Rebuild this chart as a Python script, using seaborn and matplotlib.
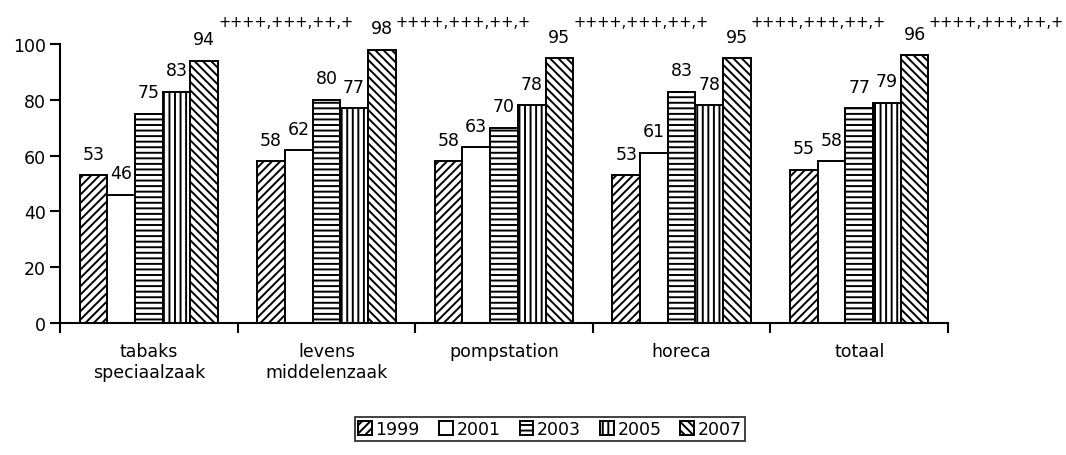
import pandas as pd
import matplotlib
matplotlib.use("Agg")
import matplotlib.pyplot as plt
import seaborn as sns

categories = ["tabaks\nspeciaalzaak", "levens\nmiddelenzaak", "pompstation", "horeca", "totaal"]
years = ["1999", "2001", "2003", "2005", "2007"]
v1999 = [53, 58, 58, 53, 55]
v2001 = [46, 62, 63, 61, 58]
v2003 = [75, 80, 70, 83, 77]
v2005 = [83, 77, 78, 78, 79]
v2007 = [94, 98, 95, 95, 96]
sig_2007 = "++++,+++,++,+"
hatches = ["////", "", "---", "|||", "\\\\\\\\"]

rows = []
for yr, vals in zip(years, [v1999, v2001, v2003, v2005, v2007]):
    for cat, v in zip(categories, vals):
        rows.append({"categorie": cat, "jaar": yr, "waarde": v})
df = pd.DataFrame(rows)

sns.set_style("white")
plt.rcParams["font.family"] = ["DejaVu Sans"]
plt.rcParams["text.color"] = "black"
plt.rcParams["xtick.color"] = "black"
plt.rcParams["ytick.color"] = "black"
plt.rcParams["hatch.linewidth"] = 1.4
plt.rcParams["hatch.color"] = "black"

fig = plt.figure(figsize=(10.66, 4.56), dpi=100)
ax = fig.add_axes([0.0563, 0.2895, 0.8330, 0.6115])

sns.barplot(data=df, x="categorie", y="waarde", hue="jaar", hue_order=years,
            palette=["white"] * 5, edgecolor="black", linewidth=1.4,
            width=0.78, saturation=1, legend=False, ax=ax)

for cont, h in zip(ax.containers, hatches):
    for p in cont:
        p.set_hatch(h)

for cont in ax.containers[:4]:
    ax.bar_label(cont, padding=9, fontsize=12.5, color="black")

# 2007 values plus the significance string, which sits in one row above the plot
last = ax.containers[4]
for p, v in zip(last, v2007):
    xc = p.get_x() + p.get_width() / 2
    ax.annotate(str(v), (xc, v), xytext=(0, 9), textcoords="offset points",
                ha="center", va="bottom", fontsize=12.5, color="black")
    ax.annotate(sig_2007, (p.get_x() + p.get_width(), 108), xytext=(0, 0),
                textcoords="offset points", ha="left", va="center",
                fontsize=10.5, color="black", annotation_clip=False)

ax.set_ylim(0, 100)
ax.set_xlim(-0.5, 4.5)
ax.set_yticks([0, 20, 40, 60, 80, 100])
ax.set_xlabel("")
ax.set_ylabel("")
sns.despine(ax=ax)
for s in ["left", "bottom"]:
    ax.spines[s].set_color("black")
    ax.spines[s].set_linewidth(1.5)

ax.set_xticks([-0.5, 0.5, 1.5, 2.5, 3.5, 4.5], minor=True)
ax.tick_params(axis="x", which="major", length=0, pad=14, labelsize=12.5, labelcolor="black")
ax.tick_params(axis="x", which="minor", length=7, width=1.5, color="black",
               direction="out", bottom=True)
ax.tick_params(axis="y", length=7, width=1.5, color="black", direction="out",
               labelsize=12.5, labelcolor="black", pad=3, left=True)

leg = ax.legend(handles=list(ax.containers), labels=years, ncol=5,
                loc="center", bbox_to_anchor=(550 / 1066, 26 / 456),
                bbox_transform=fig.transFigure, fontsize=12.5,
                frameon=True, fancybox=False, edgecolor="black",
                handlelength=0.8, handleheight=0.8, handletextpad=0.2,
                columnspacing=1.1, borderpad=0.2, borderaxespad=0)
leg.get_frame().set_linewidth(1.3)

fig.savefig("out.png", dpi=100)
